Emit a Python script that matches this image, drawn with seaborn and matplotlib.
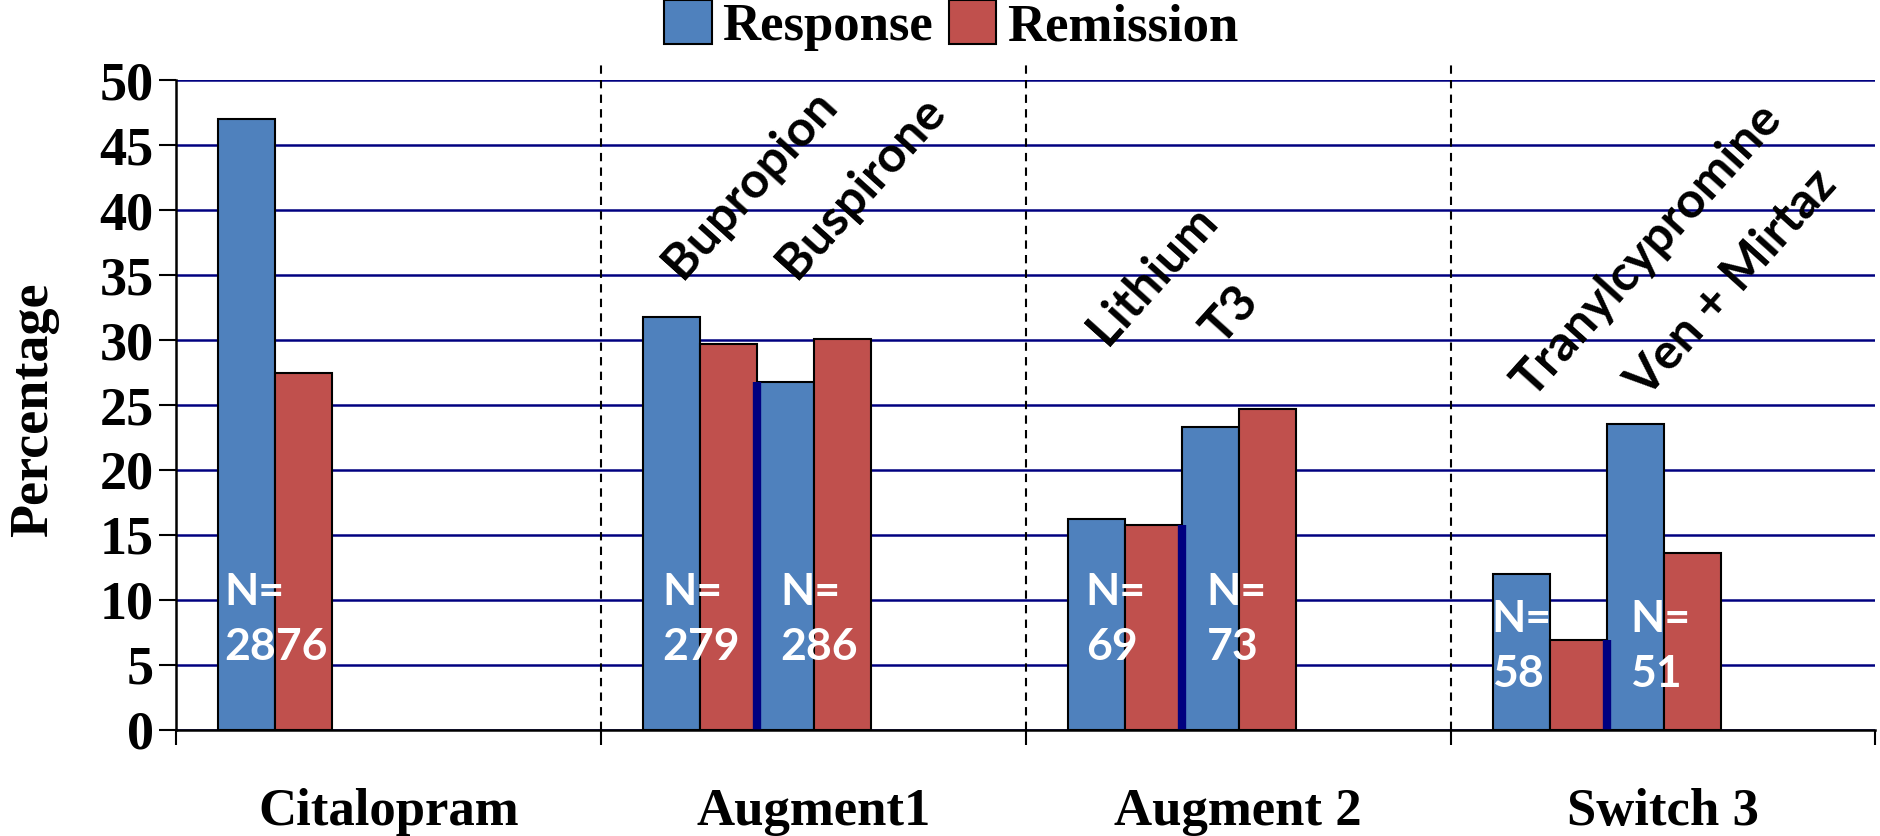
import numpy as np
import pandas as pd
import seaborn as sns
import matplotlib.pyplot as plt
from matplotlib.patches import Patch

groups = ["Citalopram", "Augment1", "Augment 2", "Switch 3"]
treat_group = ["Citalopram", "Augment1", "Augment1", "Augment 2", "Augment 2", "Switch 3", "Switch 3"]
treatments = ["Citalopram", "Bupropion", "Buspirone", "Lithium", "T3", "Tranylcypromine", "Ven + Mirtaz"]
response = [47.0, 31.8, 26.8, 16.2, 23.3, 12.0, 23.5]
remission = [27.5, 29.7, 30.1, 15.8, 24.7, 6.9, 13.6]
n_patients = [2876, 279, 286, 69, 73, 58, 51]
measures = ["Response", "Remission"]
colors = {"Response": "#4F81BD", "Remission": "#C0504D"}

# layout
bar_w = 0.134
offset = 0.1
name_base_y = {"Augment1": 34.6, "Augment 2": 29.5, "Switch 3": 25.4}
n_dx = [0.013, 0.045, 0.054, 0.041, 0.058, -0.003, 0.054]
serif = ["Liberation Serif", "DejaVu Serif"]
sans = ["Lato", "DejaVu Sans"]

rows = []
slot_count = {}
pair_left = []
for i, (t, g) in enumerate(zip(treatments, treat_group)):
    gi = groups.index(g)
    j = slot_count.get(g, 0)
    slot_count[g] = j + 1
    pair_left.append(gi + offset + bar_w * 2 * j)
    for k, (m, v) in enumerate(zip(measures, (response[i], remission[i]))):
        rows.append(dict(treatment=t, group=g, measure=m, value=v,
                         pos=round(gi + offset + bar_w * (2 * j + k + 0.5), 4)))
df = pd.DataFrame(rows)

sns.set_style("white")
plt.rcParams["font.family"] = serif
plt.rcParams["font.weight"] = "bold"
for key in ["text.color", "axes.labelcolor", "xtick.color", "ytick.color"]:
    plt.rcParams[key] = "black"

fig = plt.figure(figsize=(18.8, 8.36), dpi=100)
ax = fig.add_axes([0.0936, 0.1268, 0.904, 0.7775])

sns.barplot(data=df, x="pos", y="value", hue="measure", hue_order=measures, palette=colors,
            native_scale=True, dodge=False, width=1.0, errorbar=None, saturation=1,
            edgecolor="black", linewidth=1.5, ax=ax, zorder=2)
if ax.get_legend() is not None:
    ax.get_legend().remove()

ax.set_xlim(0, 4)
ax.set_ylim(0, 50)
ax.set_yticks(range(0, 51, 5))
ax.set_yticklabels([str(v) for v in range(0, 51, 5)], family=serif, fontweight="bold", fontsize=39)
ax.yaxis.grid(True, color="#000080", lw=1.8)
ax.xaxis.grid(False)
ax.set_axisbelow(True)
ax.tick_params(axis="y", length=12, width=1.5, direction="out", pad=4, left=True)

ax.set_xticks(range(len(groups) + 1))
ax.set_xticklabels([])
ax.tick_params(axis="x", which="major", length=11, width=1.5, direction="out", bottom=True)
ax.set_xlabel("")
for gi, g in enumerate(groups):
    ax.text(gi + 0.5, -0.146, g, transform=ax.get_xaxis_transform(), ha="center", va="baseline",
            fontsize=38, fontweight="bold", family=serif)

for side in ["top", "right"]:
    ax.spines[side].set_visible(False)
for side in ["left", "bottom"]:
    ax.spines[side].set_color("black")
    ax.spines[side].set_linewidth(1.8)
    ax.spines[side].set_zorder(4)

ax.set_ylabel("Percentage", fontsize=39, fontweight="bold", family=serif)
ax.yaxis.set_label_coords(-0.069, 0.492)

# dashed group separators
for b in range(1, len(groups)):
    ax.plot([b, b], [0, 51.2], color="black", ls=(0, (4, 3)), lw=1.5, clip_on=False, zorder=1)

# dark line between the two treatments of a group
for i in range(1, len(treatments)):
    if treat_group[i] == treat_group[i - 1]:
        h = min(remission[i - 1], response[i])
        ax.vlines(pair_left[i], 0, h, color="#000080", lw=6, zorder=3)

# N labels and rotated treatment names
for i, t in enumerate(treatments):
    g = treat_group[i]
    ny = 6.4 if g == "Switch 3" else 8.5
    ax.text(pair_left[i] + n_dx[i], ny, f"N=\n{n_patients[i]}", color="white", fontsize=32,
            fontweight="bold", family=sans, ha="left", va="center", linespacing=1.45, zorder=5)
    if g != "Citalopram":
        ax.text(pair_left[i] + 0.092, name_base_y[g], t, rotation=48, rotation_mode="anchor",
                ha="left", va="baseline", fontsize=36, fontweight="bold", family=sans, zorder=5)

handles = [Patch(facecolor=colors[m], edgecolor="black", lw=1.5) for m in measures]
fig.legend(handles, measures, loc="center", bbox_to_anchor=(0.506, 0.969), ncol=2, frameon=False,
           prop=dict(family=serif, weight="bold", size=38), handlelength=0.9, handleheight=0.9,
           handletextpad=0.2, columnspacing=0.3, borderpad=0)

fig.savefig("out.png", dpi=100)
